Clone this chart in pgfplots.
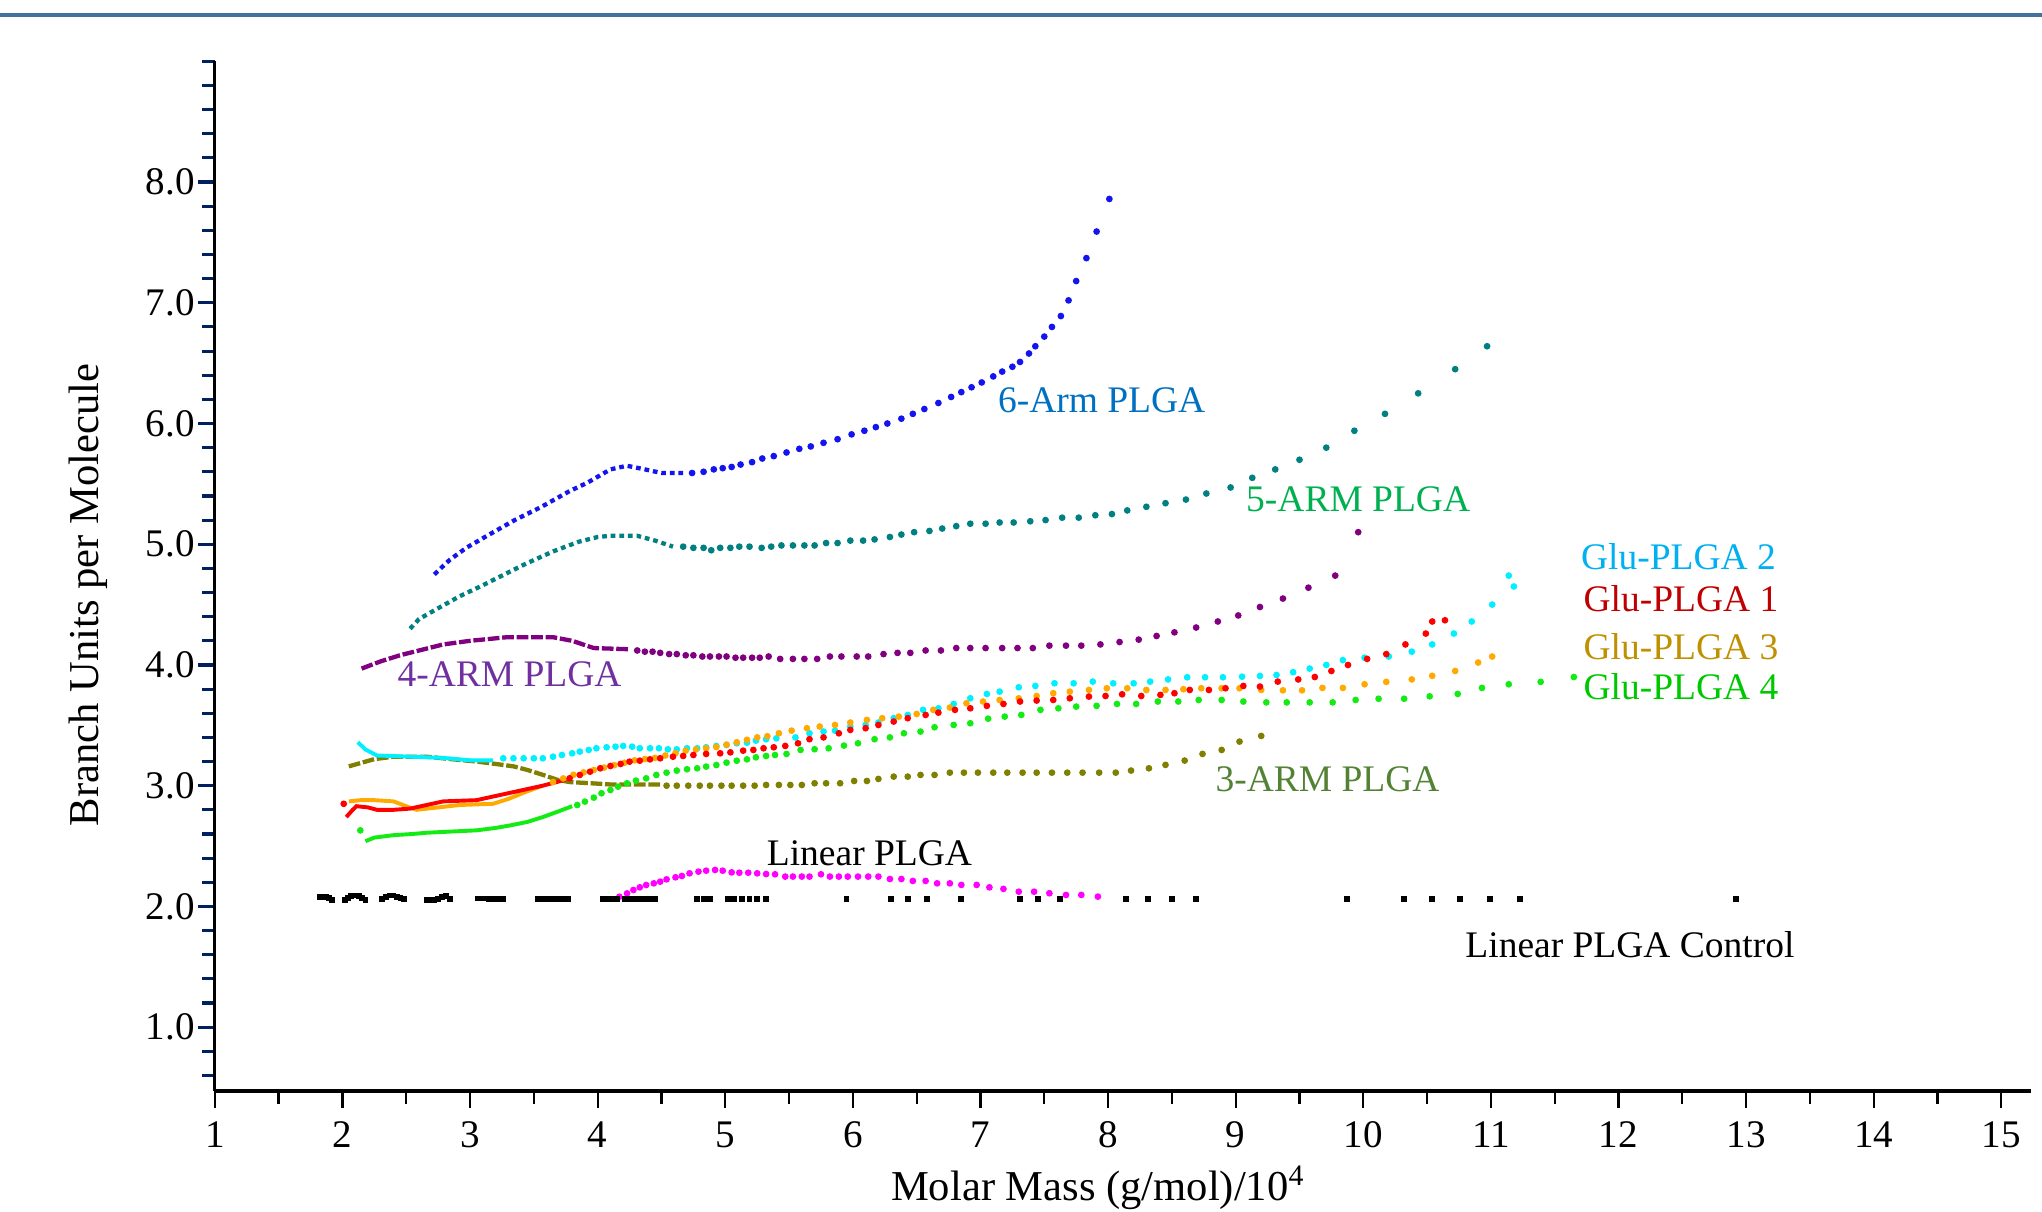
\documentclass[border=0pt]{standalone}
\usepackage{pgfplots}
\pgfplotsset{compat=1.18}
\usepackage{fontspec}
\setmainfont{Liberation Serif}
\definecolor{c6arm}{RGB}{20,20,240}
\definecolor{c5arm}{RGB}{0,128,128}
\definecolor{c4arm}{RGB}{128,0,128}
\definecolor{cglu2}{RGB}{0,240,255}
\definecolor{cglu1}{RGB}{255,0,0}
\definecolor{cglu3}{RGB}{255,170,0}
\definecolor{cglu4}{RGB}{20,235,20}
\definecolor{c3arm}{RGB}{128,128,0}
\definecolor{clin}{RGB}{255,0,255}
\definecolor{l6}{RGB}{0,112,192}
\definecolor{l5}{RGB}{0,176,80}
\definecolor{lg2}{RGB}{0,176,240}
\definecolor{lg1}{RGB}{192,0,0}
\definecolor{lg3}{RGB}{191,144,0}
\definecolor{lg4}{RGB}{0,200,0}
\definecolor{l4}{RGB}{112,48,160}
\definecolor{l3}{RGB}{84,130,53}
\definecolor{navy}{RGB}{0,32,96}
\definecolor{topblue}{RGB}{68,114,160}
\begin{document}
\begin{tikzpicture}
\begin{axis}[
  scale only axis, width=464.8pt, height=263.6pt,
  xmin=1, xmax=15.23, ymin=0.47, ymax=9.0,
  axis x line*=bottom, axis y line*=left,
  axis line style={-},
  x axis line style={line width=1pt},
  y axis line style={line width=0.8pt},
  xtick={1,...,15},
  minor xtick={1.5,2.5,3.5,4.5,5.5,6.5,7.5,8.5,9.5,10.5,11.5,12.5,13.5,14.5},
  ytick={1,2,3,4,5,6,7,8},
  minor ytick={0.6,0.8,1.2,1.4,1.6,1.8,2.2,2.4,2.6,2.8,3.2,3.4,3.6,3.8,4.2,4.4,4.6,4.8,5.2,5.4,5.6,5.8,6.2,6.4,6.6,6.8,7.2,7.4,7.6,7.8,8.2,8.4,8.6,8.8,9.0},
  tick align=outside,
  major tick length=4.3pt, minor tick length=3.2pt,
  major x tick style={black, line width=0.6pt},
  minor x tick style={black, line width=0.6pt},
  major y tick style={navy, line width=0.8pt},
  minor y tick style={navy, line width=0.8pt},
  /pgf/number format/assume math mode=true,
  ticklabel style={font=\fontsize{10}{12}\selectfont},
  yticklabel style={xshift=2.7pt, /pgf/number format/.cd, fixed, fixed zerofill, precision=1},
  xticklabel style={/pgf/number format/.cd, fixed, precision=0},
  xlabel={Molar Mass (g/mol)/10\textsuperscript{4}},
  ylabel={Branch Units per Molecule},
  label style={font=\fontsize{10.9}{13}\selectfont},
  xlabel style={at={(axis description cs:0.4865,-0.0937)}, anchor=center},
  ylabel style={at={(axis description cs:-0.0695,0.4818)}, anchor=center},
  clip=false,
  every axis plot/.append style={mark size=0.65pt},
]
% ---------- 6-Arm PLGA ----------
\addplot[c6arm, line width=1.1pt, dash pattern=on 1.2pt off 1.0pt] coordinates {
(2.72,4.75)(2.84,4.87)(2.97,4.97)(3.15,5.08)(3.35,5.20)(3.56,5.31)(3.78,5.44)(3.92,5.51)(4.10,5.62)(4.23,5.65)(4.37,5.62)(4.50,5.59)(4.68,5.59)};
\addplot[c6arm, only marks, mark=*] coordinates {
(4.74,5.59)(4.83,5.60)(4.91,5.62)(4.98,5.63)(5.05,5.64)(5.12,5.66)(5.21,5.68)(5.29,5.71)(5.38,5.73)(5.48,5.76)(5.58,5.79)(5.67,5.81)(5.77,5.84)(5.88,5.87)(5.99,5.91)(6.09,5.94)(6.18,5.97)(6.27,6.00)(6.38,6.04)(6.47,6.08)(6.56,6.12)(6.67,6.17)(6.77,6.22)(6.85,6.26)(6.93,6.30)(7.01,6.34)(7.10,6.39)(7.17,6.43)(7.25,6.47)(7.31,6.51)(7.38,6.58)(7.43,6.64)(7.50,6.72)(7.56,6.80)(7.63,6.89)(7.69,7.02)(7.75,7.18)(7.83,7.37)(7.91,7.59)(8.01,7.86)};
% ---------- 5-ARM PLGA ----------
\addplot[c5arm, line width=1.1pt, dash pattern=on 1.2pt off 1.0pt] coordinates {
(2.53,4.30)(2.60,4.38)(2.75,4.47)(2.92,4.57)(3.10,4.66)(3.25,4.74)(3.44,4.84)(3.65,4.94)(3.85,5.02)(4.00,5.06)(4.10,5.07)(4.31,5.07)(4.45,5.03)(4.59,4.98)};
\addplot[c5arm, only marks, mark=*] coordinates {
(4.67,4.98)(4.75,4.97)(4.83,4.97)(4.89,4.95)(4.96,4.97)(5.04,4.97)(5.11,4.98)(5.19,4.98)(5.285,4.97)(5.36,4.98)(5.44,4.99)(5.53,4.99)(5.62,4.99)(5.70,4.99)(5.79,5.01)(5.88,5.01)(5.98,5.03)(6.08,5.03)(6.17,5.04)(6.29,5.06)(6.38,5.08)(6.48,5.10)(6.60,5.11)(6.70,5.13)(6.81,5.15)(6.92,5.17)(7.04,5.17)(7.15,5.18)(7.26,5.18)(7.39,5.19)(7.51,5.20)(7.64,5.22)(7.77,5.22)(7.90,5.24)(8.03,5.25)(8.15,5.28)(8.30,5.31)(8.45,5.34)(8.61,5.37)(8.77,5.42)(8.96,5.47)(9.13,5.55)(9.31,5.62)(9.50,5.70)(9.71,5.80)(9.93,5.94)(10.17,6.08)(10.43,6.25)(10.72,6.45)(10.97,6.64)};
% ---------- 4-ARM PLGA ----------
\addplot[c4arm, line width=1.1pt, dash pattern=on 3pt off 0.7pt] coordinates {
(2.15,3.97)(2.30,4.03)(2.45,4.08)(2.60,4.12)(2.79,4.17)(3.00,4.20)(3.29,4.23)(3.65,4.23)(3.80,4.20)(3.97,4.14)(4.25,4.13)};
\addplot[c4arm, only marks, mark=*] coordinates {
(4.31,4.12)(4.37,4.11)(4.43,4.11)(4.49,4.10)(4.56,4.09)(4.62,4.09)(4.69,4.08)(4.75,4.08)(4.82,4.07)(4.88,4.07)(4.95,4.07)(5.01,4.07)(5.08,4.06)(5.14,4.06)(5.21,4.06)(5.27,4.06)(5.34,4.07)(5.43,4.05)(5.53,4.05)(5.62,4.05)(5.72,4.05)(5.82,4.07)(5.91,4.07)(6.03,4.07)(6.12,4.07)(6.24,4.09)(6.35,4.10)(6.45,4.10)(6.57,4.12)(6.69,4.12)(6.81,4.14)(6.92,4.14)(7.04,4.14)(7.17,4.14)(7.29,4.14)(7.41,4.14)(7.54,4.16)(7.67,4.16)(7.79,4.16)(7.94,4.17)(8.09,4.19)(8.24,4.21)(8.38,4.24)(8.52,4.27)(8.69,4.31)(8.86,4.36)(9.02,4.41)(9.19,4.48)(9.37,4.55)(9.57,4.64)(9.78,4.74)(9.96,5.10)};
% ---------- 3-ARM PLGA ----------
\addplot[c3arm, line width=1.1pt, dash pattern=on 3pt off 0.7pt] coordinates {
(2.05,3.16)(2.15,3.19)(2.25,3.22)(2.40,3.24)(2.66,3.24)(2.85,3.22)(3.05,3.20)(3.20,3.18)(3.34,3.16)(3.45,3.13)(3.57,3.09)(3.68,3.05)(3.78,3.03)(3.95,3.02)(4.10,3.01)(4.49,3.01)};
\addplot[c3arm, only marks, mark=*] coordinates {
(4.54,3.00)(4.62,3.00)(4.71,3.00)(4.80,3.00)(4.88,3.00)(4.97,3.00)(5.05,3.00)(5.14,3.00)(5.23,3.00)(5.32,3.006)(5.42,3.006)(5.51,3.006)(5.60,3.006)(5.70,3.02)(5.79,3.02)(5.90,3.02)(6.01,3.039)(6.11,3.039)(6.20,3.056)(6.32,3.075)(6.43,3.075)(6.53,3.089)(6.64,3.089)(6.76,3.108)(6.87,3.108)(6.98,3.108)(7.10,3.108)(7.21,3.108)(7.33,3.108)(7.44,3.108)(7.56,3.108)(7.68,3.108)(7.80,3.108)(7.93,3.108)(8.06,3.108)(8.18,3.125)(8.32,3.144)(8.45,3.172)(8.60,3.208)(8.74,3.263)(8.89,3.296)(9.03,3.365)(9.20,3.412)};
% ---------- Glu-PLGA 2 ----------
\addplot[cglu2, line width=1.0pt] coordinates {
(2.12,3.36)(2.18,3.30)(2.27,3.25)(2.40,3.245)(2.53,3.24)(2.79,3.23)(3.00,3.21)(3.18,3.21)};
\addplot[cglu2, only marks, mark=*] coordinates {
(3.26,3.227)(3.34,3.227)(3.42,3.227)(3.50,3.227)(3.57,3.227)(3.65,3.24)(3.72,3.254)(3.80,3.268)(3.86,3.282)(3.93,3.296)(3.99,3.31)(4.07,3.318)(4.14,3.323)(4.20,3.329)(4.27,3.323)(4.33,3.31)(4.41,3.31)(4.48,3.31)(4.55,3.301)(4.62,3.301)(4.70,3.31)(4.78,3.31)(4.85,3.318)(4.93,3.329)(5.01,3.337)(5.09,3.351)(5.17,3.356)(5.24,3.373)(5.32,3.384)(5.40,3.392)(5.55,3.40)(5.66,3.434)(5.77,3.448)(5.86,3.456)(5.98,3.49)(6.10,3.503)(6.20,3.523)(6.32,3.559)(6.43,3.586)(6.55,3.628)(6.67,3.641)(6.79,3.677)(6.92,3.724)(7.05,3.76)(7.15,3.779)(7.30,3.815)(7.43,3.826)(7.58,3.848)(7.73,3.848)(7.88,3.862)(8.04,3.848)(8.20,3.848)(8.33,3.862)(8.47,3.88)(8.62,3.898)(8.76,3.898)(8.90,3.898)(9.05,3.903)(9.19,3.909)(9.32,3.917)(9.45,3.94)(9.58,3.97)(9.71,4.00)(9.84,4.04)(10.01,4.06)(10.20,4.07)(10.38,4.11)(10.54,4.17)(10.71,4.26)(10.85,4.36)(11.01,4.50)(11.18,4.65)(11.14,4.74)};
% ---------- Glu-PLGA 3 ----------
\addplot[cglu3, line width=1.0pt] coordinates {
(2.05,2.87)(2.14,2.88)(2.25,2.88)(2.40,2.87)(2.50,2.83)(2.58,2.80)(2.75,2.82)(2.92,2.84)(3.18,2.85)(3.30,2.89)(3.44,2.95)(3.57,3.00)};
\addplot[cglu3, only marks, mark=*] coordinates {
(3.65,3.03)(3.73,3.06)(3.81,3.09)(3.89,3.11)(3.97,3.13)(4.05,3.15)(4.13,3.17)(4.21,3.19)(4.29,3.21)(4.37,3.22)(4.45,3.23)(4.53,3.25)(4.61,3.27)(4.69,3.29)(4.77,3.30)(4.85,3.31)(4.93,3.32)(5.01,3.34)(5.09,3.36)(5.17,3.38)(5.25,3.40)(5.33,3.41)(5.42,3.434)(5.52,3.456)(5.64,3.476)(5.74,3.49)(5.86,3.503)(5.98,3.523)(6.11,3.545)(6.23,3.559)(6.36,3.572)(6.50,3.594)(6.63,3.628)(6.76,3.647)(6.89,3.683)(7.02,3.697)(7.15,3.71)(7.30,3.724)(7.44,3.743)(7.57,3.766)(7.70,3.779)(7.85,3.793)(7.99,3.807)(8.15,3.807)(8.30,3.793)(8.45,3.793)(8.59,3.799)(8.73,3.807)(8.89,3.807)(9.03,3.807)(9.20,3.793)(9.37,3.79)(9.52,3.79)(9.68,3.81)(9.84,3.81)(10.01,3.84)(10.18,3.86)(10.38,3.88)(10.54,3.91)(10.72,3.95)(10.90,4.02)(11.01,4.07)};
% ---------- Glu-PLGA 1 ----------
\addplot[cglu1, line width=1.0pt] coordinates {
(2.03,2.74)(2.08,2.80)(2.11,2.83)(2.20,2.82)(2.27,2.80)(2.40,2.80)(2.53,2.81)(2.66,2.84)(2.79,2.87)(3.05,2.88)(3.31,2.94)(3.57,3.00)(3.75,3.05)};
\addplot[cglu1, only marks, mark=*] coordinates {
(2.01,2.85)(3.78,3.061)(3.86,3.089)(3.94,3.116)(4.02,3.144)(4.10,3.163)(4.18,3.18)(4.25,3.199)(4.33,3.207)(4.41,3.218)(4.49,3.227)(4.59,3.24)(4.67,3.246)(4.75,3.254)(4.85,3.263)(4.96,3.268)(5.04,3.276)(5.14,3.29)(5.22,3.296)(5.30,3.31)(5.38,3.318)(5.47,3.329)(5.57,3.351)(5.66,3.385)(5.77,3.40)(5.89,3.434)(5.98,3.462)(6.10,3.476)(6.20,3.503)(6.32,3.531)(6.43,3.559)(6.57,3.586)(6.67,3.605)(6.80,3.628)(6.92,3.641)(7.05,3.661)(7.18,3.677)(7.31,3.697)(7.44,3.705)(7.57,3.71)(7.70,3.724)(7.85,3.738)(7.98,3.743)(8.11,3.757)(8.26,3.743)(8.41,3.752)(8.52,3.766)(8.64,3.793)(8.79,3.793)(8.92,3.807)(9.06,3.826)(9.19,3.821)(9.33,3.862)(9.49,3.88)(9.62,3.90)(9.75,3.95)(9.88,4.00)(10.03,4.05)(10.18,4.09)(10.33,4.17)(10.49,4.26)(10.54,4.36)(10.64,4.37)};
% ---------- Glu-PLGA 4 ----------
\addplot[cglu4, line width=1.0pt] coordinates {
(2.18,2.54)(2.25,2.57)(2.40,2.59)(2.55,2.60)(2.66,2.61)(2.85,2.62)(3.05,2.63)(3.20,2.65)(3.31,2.67)(3.45,2.70)(3.57,2.74)(3.70,2.79)(3.80,2.83)};
\addplot[cglu4, only marks, mark=*] coordinates {
(2.14,2.63)(3.84,2.84)(3.90,2.868)(3.97,2.901)(4.03,2.937)(4.10,2.964)(4.16,2.992)(4.23,3.02)(4.30,3.042)(4.38,3.061)(4.46,3.089)(4.54,3.108)(4.62,3.125)(4.70,3.136)(4.78,3.144)(4.85,3.158)(4.93,3.171)(5.01,3.191)(5.09,3.207)(5.17,3.218)(5.24,3.235)(5.32,3.246)(5.39,3.254)(5.48,3.263)(5.59,3.296)(5.70,3.302)(5.81,3.31)(5.93,3.332)(6.04,3.351)(6.17,3.385)(6.29,3.40)(6.40,3.434)(6.53,3.448)(6.64,3.484)(6.79,3.503)(6.92,3.517)(7.06,3.555)(7.19,3.572)(7.32,3.586)(7.47,3.628)(7.61,3.641)(7.75,3.655)(7.91,3.661)(8.07,3.677)(8.22,3.677)(8.39,3.697)(8.55,3.697)(8.71,3.71)(8.89,3.71)(9.06,3.697)(9.24,3.69)(9.40,3.69)(9.58,3.69)(9.76,3.69)(9.94,3.71)(10.12,3.72)(10.32,3.72)(10.52,3.74)(10.74,3.76)(10.93,3.81)(11.14,3.84)(11.39,3.86)(11.65,3.90)};
% ---------- Linear PLGA ----------
\addplot[clin, only marks, mark=*] coordinates {
(4.17,2.08)(4.23,2.108)(4.28,2.136)(4.33,2.158)(4.38,2.177)(4.44,2.191)(4.49,2.205)(4.54,2.224)(4.61,2.241)(4.66,2.252)(4.72,2.274)(4.79,2.288)(4.85,2.296)(4.92,2.302)(4.98,2.296)(5.05,2.282)(5.11,2.279)(5.18,2.279)(5.25,2.274)(5.32,2.268)(5.39,2.266)(5.47,2.247)(5.53,2.247)(5.60,2.247)(5.66,2.247)(5.75,2.266)(5.82,2.247)(5.89,2.247)(5.96,2.247)(6.04,2.247)(6.12,2.247)(6.20,2.247)(6.29,2.227)(6.38,2.227)(6.47,2.211)(6.57,2.211)(6.66,2.191)(6.76,2.191)(6.85,2.178)(6.97,2.178)(7.07,2.158)(7.18,2.145)(7.30,2.122)(7.42,2.122)(7.54,2.109)(7.67,2.095)(7.79,2.095)(7.92,2.081)};
% ---------- Linear PLGA Control ----------
\addplot[black, only marks, mark=square*, mark size=0.55pt] coordinates {
(1.82,2.08)(1.845,2.08)(1.87,2.08)(1.895,2.07)(1.92,2.05)
(2.02,2.05)(2.045,2.07)(2.07,2.085)(2.10,2.09)(2.13,2.085)(2.155,2.07)(2.18,2.05)
(2.31,2.06)(2.34,2.08)(2.37,2.09)(2.40,2.09)(2.43,2.08)(2.455,2.07)(2.48,2.06)
(2.66,2.05)(2.69,2.05)(2.72,2.055)(2.75,2.06)(2.78,2.075)(2.81,2.085)(2.84,2.06)
(3.06,2.065)(3.09,2.065)(3.12,2.065)(3.15,2.06)(3.18,2.06)(3.21,2.06)(3.24,2.06)(3.26,2.06)
(3.53,2.06)(3.56,2.06)(3.59,2.06)(3.62,2.06)(3.65,2.06)(3.68,2.06)(3.71,2.06)(3.74,2.06)(3.77,2.06)
(4.04,2.06)(4.08,2.06)(4.12,2.06)(4.15,2.06)
(4.21,2.06)(4.25,2.06)(4.29,2.06)(4.33,2.06)(4.37,2.06)(4.41,2.06)(4.45,2.06)
(4.78,2.06)(4.83,2.06)(4.88,2.06)
(5.02,2.06)(5.07,2.06)(5.13,2.06)
(5.19,2.06)(5.25,2.06)(5.32,2.06)
(5.95,2.06)(6.30,2.06)(6.43,2.06)(6.58,2.06)(6.85,2.06)(7.31,2.06)(7.45,2.06)(7.62,2.06)(8.14,2.06)(8.31,2.06)(8.50,2.06)(8.69,2.06)(9.87,2.06)(10.32,2.06)(10.54,2.06)(10.76,2.06)(10.99,2.06)(11.23,2.06)(12.92,2.06)};
% ---------- labels ----------
\begin{scope}[every node/.style={font=\fontsize{9.6}{11}\selectfont, inner sep=0pt}]
\node[l6] at (axis cs:7.95,6.19) {6-Arm PLGA};
\node[l5] at (axis cs:9.96,5.37) {5-ARM PLGA};
\node[lg2] at (axis cs:12.47,4.90) {Glu-PLGA 2};
\node[lg1] at (axis cs:12.49,4.55) {Glu-PLGA 1};
\node[lg3] at (axis cs:12.49,4.15) {Glu-PLGA 3};
\node[lg4] at (axis cs:12.49,3.82) {Glu-PLGA 4};
\node[l4] at (axis cs:3.31,3.92) {4-ARM PLGA};
\node[l3] at (axis cs:9.72,3.05) {3-ARM PLGA};
\node[black] at (axis cs:6.13,2.44) {Linear PLGA};
\node[black] at (axis cs:12.09,1.68) {Linear PLGA Control};
\end{scope}
\end{axis}
\draw[topblue, line width=1pt] (-55pt,275.5pt) -- (467.7pt,275.5pt);
\pgfresetboundingbox
\path[use as bounding box] (-55pt,-30.9pt) rectangle (467.7pt,279.3pt);
\end{tikzpicture}
\end{document}
